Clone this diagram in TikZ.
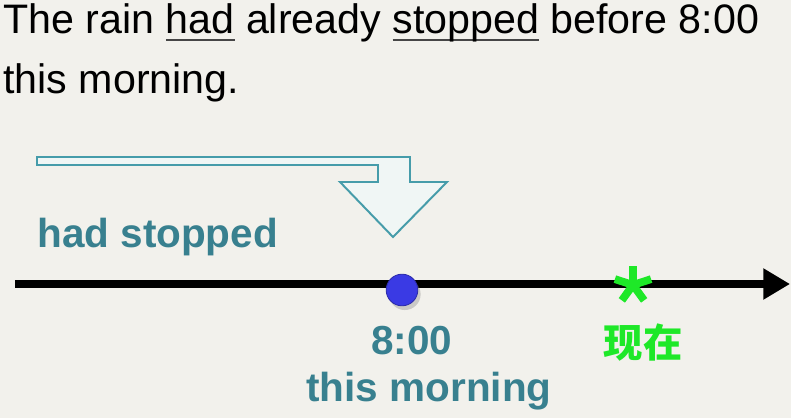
\documentclass[tikz,border=0pt]{standalone}
\usepackage{fontspec}
\setmainfont{Liberation Sans}
\newfontfamily\cjkfont{Noto Sans CJK SC}
\usepackage{tikz}
\usetikzlibrary{arrows.meta,shadows}
\usepackage{xcolor}

\definecolor{bgcol}{RGB}{242,241,236}
\definecolor{tealtxt}{RGB}{56,128,143}
\definecolor{tealline}{RGB}{70,156,170}
\definecolor{tealfill}{RGB}{240,246,245}
\definecolor{dotblue}{RGB}{58,58,228}
\definecolor{nowgreen}{RGB}{30,232,40}
\definecolor{ulgray}{RGB}{70,70,70}

\newcommand\ulword[1]{\setbox0\hbox{#1}\rlap{\color{ulgray}\rule[-0.16em]{\wd0}{0.05em}}\box0{}}

\begin{document}
\begin{tikzpicture}[x=0.025cm,y=-0.025cm]
\tikzstyle{every node}+=[inner sep=0pt]
\tikzstyle{sentence}=[anchor=base west,font=\fontsize{29.3pt}{34pt}\selectfont]
\tikzstyle{lbl}=[text=tealtxt,font=\bfseries\fontsize{28.8pt}{34pt}\selectfont]
\fill [bgcol] (0,0) rectangle (791,418);
\useasboundingbox (0,0) rectangle (791,418);
\node [sentence] (line1) at (3,34) {The rain \ulword{had} already \ulword{stopped} before 8:00};
\node [sentence] (line2) at (3,94) {this morning.};
% hollow arrow
\filldraw [draw=tealline, fill=tealfill, line width=1.4pt, line join=miter]
  (37,157) -- (410,157) -- (410,182) -- (447,182) -- (393,237) -- (340,182)
  -- (378,182) -- (378,165) -- (37,165) -- cycle;
\node [lbl, anchor=base west] (had) at (37,248) {had stopped};
% time line
\coordinate (tlstart) at (15,284);
\coordinate (tlend) at (790,284);
\draw [line width=5pt, -{Triangle[length=19pt,width=21pt]}] (tlstart) -- (tlend);
\node [circle, fill=dotblue, draw=dotblue!75!black, line width=0.6pt, minimum size=22.5pt,
  drop shadow={shadow xshift=2pt, shadow yshift=-3pt, opacity=0.35}] (eight) at (402,290) {};
\coordinate (now) at (633,285);
\foreach \a in {270,342,54,126,198}
  \draw [nowgreen, line width=5.5pt] (now) -- ++(\a:19);
\node [lbl, anchor=base] (time) at (412,355) {8:00};
\node [lbl, anchor=base] (morning) at (429,402) {this morning};
\node [anchor=base, text=nowgreen, font=\cjkfont\bfseries\fontsize{28pt}{30pt}\selectfont] (nowlabel) at (643,358) {现在};
\end{tikzpicture}
\end{document}
